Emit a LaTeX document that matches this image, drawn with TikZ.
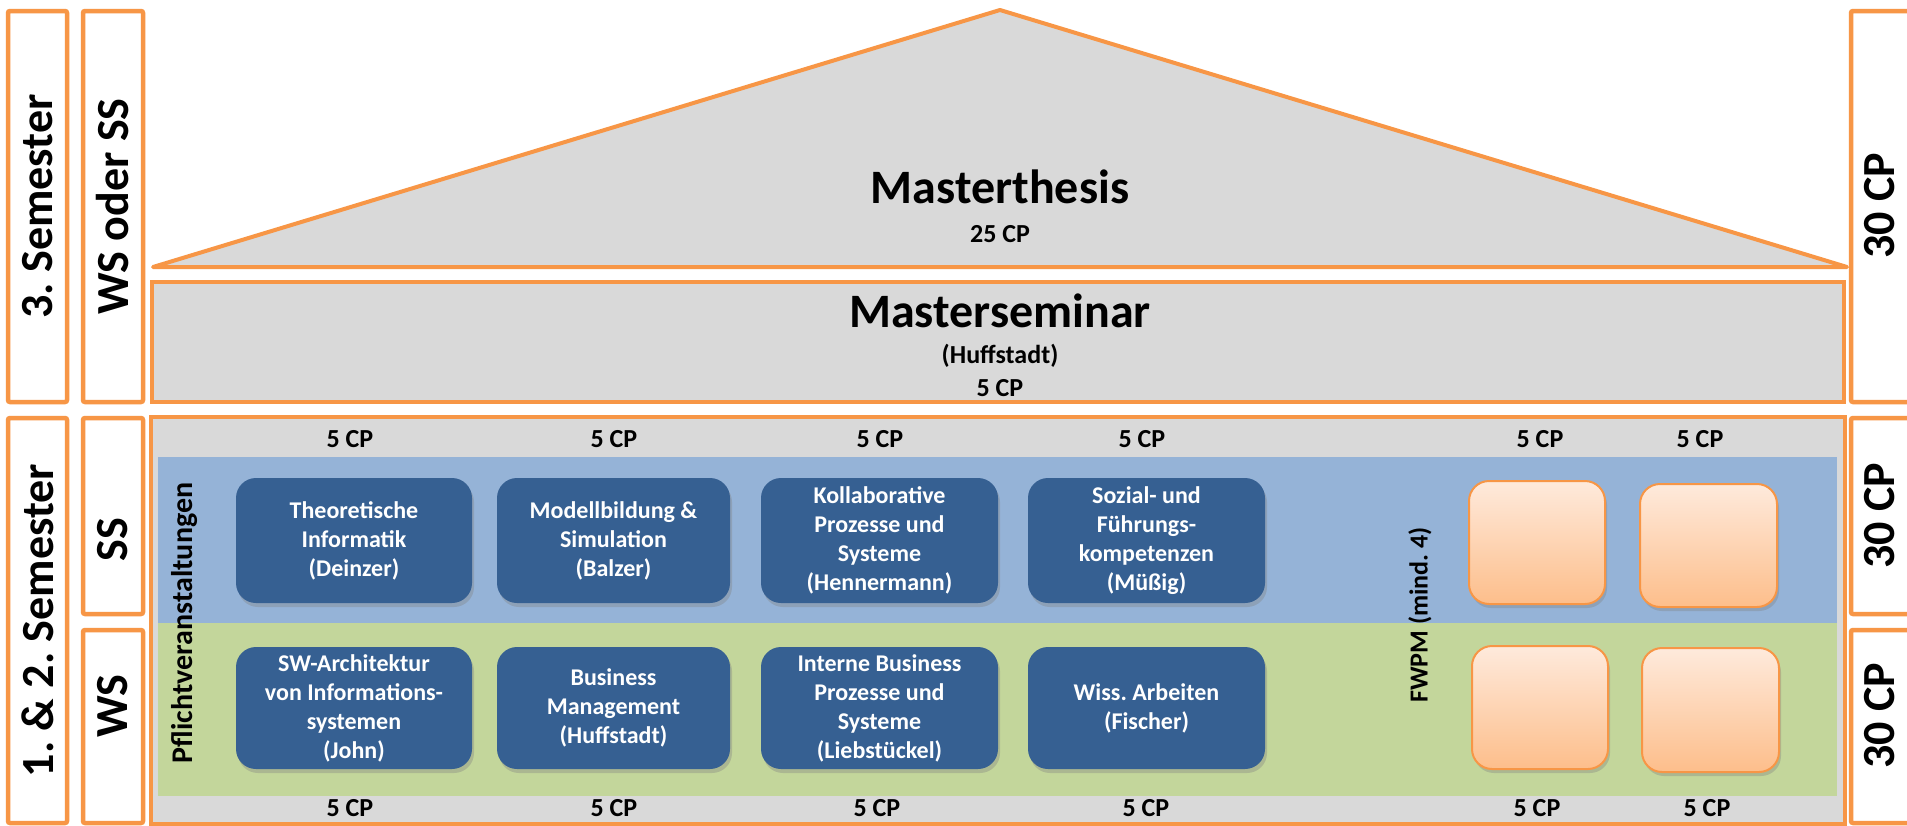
\documentclass[tikz,border=0pt]{standalone}
\usepackage{fontspec}
\setmainfont{Carlito}
\usetikzlibrary{shadows}
\definecolor{orng}{HTML}{F79646}
\definecolor{lgray}{HTML}{D9D9D9}
\definecolor{bband}{HTML}{95B3D7}
\definecolor{gband}{HTML}{C3D69B}
\definecolor{cblue}{HTML}{366092}
\definecolor{otop}{HTML}{FEEADC}
\definecolor{obot}{HTML}{FDBE8B}
\frenchspacing
\tikzset{
  obox/.style={draw=orng, line width=4.5pt, rounded corners=2pt, inner sep=0pt},
  biglabel/.style={font=\fontsize{46pt}{55pt}\selectfont\bfseries, inner sep=0pt},
  titlelabel/.style={font=\fontsize{48pt}{58pt}\selectfont\bfseries, inner sep=0pt, anchor=base},
  cplabel/.style={font=\fontsize{26pt}{31pt}\selectfont\bfseries, inner sep=0pt, anchor=base},
  sidelabel/.style={font=\fontsize{26pt}{31pt}\selectfont\bfseries, inner sep=0pt, rotate=90},
  course/.style={fill=cblue, rounded corners=20pt, text=white, align=center,
    font=\fontsize{24pt}{29pt}\selectfont\bfseries, inner sep=0pt,
    drop shadow={opacity=0.35, shadow xshift=2pt, shadow yshift=-4pt}},
  fwpmbox/.style={draw=orng, line width=2pt, rounded corners=20pt, top color=otop, bottom color=obot,
    inner sep=0pt, drop shadow={opacity=0.35, shadow xshift=2pt, shadow yshift=-4pt}}
}
\begin{document}
\begin{tikzpicture}[x=1pt,y=-1pt]
\clip (0,0) rectangle (1907,825);
\fill[white] (0,0) rectangle (1907,825);

% left column boxes
\node[obox, minimum width=59pt, minimum height=391pt] (sem3box) at (37.5,206.5) {};
\node[biglabel, rotate=90] (sem3) at (sem3box.center) {3. Semester};
\node[obox, minimum width=60pt, minimum height=391pt] (wsssbox) at (113,206.5) {};
\node[biglabel, rotate=90] (wsss) at (wsssbox.center) {WS oder SS};
\node[obox, minimum width=59pt, minimum height=405pt] (sem12box) at (37.5,620.5) {};
\node[biglabel, rotate=90] (sem12) at (sem12box.center) {1. \& 2. Semester};
\node[obox, minimum width=60pt, minimum height=196pt] (ssbox) at (113,516) {};
\node[biglabel, rotate=90] (ss) at (113,540) {SS};
\node[obox, minimum width=60pt, minimum height=193pt] (wsbox) at (113,726.5) {};
\node[biglabel, rotate=90] (ws) at (113,706) {WS};

% right column boxes
\node[obox, minimum width=79pt, minimum height=391pt] (r1box) at (1890.5,206.5) {};
\node[biglabel, rotate=90] (r1) at (1880,206) {30 CP};
\node[obox, minimum width=79pt, minimum height=196pt] (r2box) at (1890.5,516) {};
\node[biglabel, rotate=90] (r2) at (1880,516) {30 CP};
\node[obox, minimum width=79pt, minimum height=193pt] (r3box) at (1890.5,726.5) {};
\node[biglabel, rotate=90] (r3) at (1880,716) {30 CP};

% roof: Masterthesis
\coordinate (tl) at (153,267);
\coordinate (tapex) at (1000,10);
\coordinate (tr) at (1847,267);
\draw[fill=lgray, draw=orng, line width=4pt, line join=round] (tl) -- (tapex) -- (tr) -- cycle;
\node[titlelabel] (mt) at (1000,203) {Masterthesis};
\node[cplabel] (mtcp) at (1000,242) {25 CP};

% Masterseminar
\node[obox, fill=lgray, rounded corners=0pt, minimum width=1692pt, minimum height=120pt] (msbox) at (998,342) {};
\node[titlelabel] (ms) at (1000,327) {Masterseminar};
\node[cplabel] (msname) at (1000,363) {(Huffstadt)};
\node[cplabel] (mscp) at (1000,396) {5 CP};

% lower main box
\node[obox, fill=lgray, rounded corners=0pt, minimum width=1694pt, minimum height=407pt] (mainbox) at (998,620.5) {};
\fill[bband] (158,457) rectangle (1837,623);
\fill[gband] (158,623) rectangle (1837,796);

\node[sidelabel, font=\fontsize{30pt}{36pt}\selectfont\bfseries] (pflicht) at (185,623) {Pflichtveranstaltungen};
\node[sidelabel] (fwpm) at (1420,615) {FWPM (mind. 4)};

% course boxes
\node[course, minimum width=236pt, minimum height=125pt] (c11) at (354,540.5) {Theoretische\\Informatik\\(Deinzer)};
\node[course, minimum width=233pt, minimum height=125pt] (c12) at (613.5,540.5) {Modellbildung \&\\Simulation\\(Balzer)};
\node[course, minimum width=237pt, minimum height=125pt] (c13) at (879.5,540.5) {Kollaborative\\Prozesse und\\Systeme\\(Hennermann)};
\node[course, minimum width=237pt, minimum height=125pt] (c14) at (1146.5,540.5) {Sozial- und\\Führungs-\\kompetenzen\\(Müßig)};
\node[course, minimum width=236pt, minimum height=122pt] (c21) at (354,708) {SW-Architektur\\von Informations-\\systemen\\(John)};
\node[course, minimum width=233pt, minimum height=122pt] (c22) at (613.5,708) {Business\\Management\\(Huffstadt)};
\node[course, minimum width=237pt, minimum height=122pt] (c23) at (879.5,708) {Interne Business\\Prozesse und\\Systeme\\(Liebstückel)};
\node[course, minimum width=237pt, minimum height=122pt] (c24) at (1146.5,708) {Wiss. Arbeiten\\(Fischer)};

% FWPM boxes
\node[fwpmbox, minimum width=136pt, minimum height=123pt] (f11) at (1537,542.5) {};
\node[fwpmbox, minimum width=137pt, minimum height=123pt] (f12) at (1708.5,545.5) {};
\node[fwpmbox, minimum width=136pt, minimum height=123pt] (f21) at (1540,707.5) {};
\node[fwpmbox, minimum width=137pt, minimum height=124pt] (f22) at (1710.5,710) {};

% CP labels top
\node[cplabel] (t1) at (350,447) {5 CP};
\node[cplabel] (t2) at (614,447) {5 CP};
\node[cplabel] (t3) at (880,447) {5 CP};
\node[cplabel] (t4) at (1142,447) {5 CP};
\node[cplabel] (t5) at (1540,447) {5 CP};
\node[cplabel] (t6) at (1700,447) {5 CP};
% CP labels bottom
\node[cplabel] (b1) at (350,816) {5 CP};
\node[cplabel] (b2) at (614,816) {5 CP};
\node[cplabel] (b3) at (877,816) {5 CP};
\node[cplabel] (b4) at (1146,816) {5 CP};
\node[cplabel] (b5) at (1537,816) {5 CP};
\node[cplabel] (b6) at (1707,816) {5 CP};
\end{tikzpicture}
\end{document}
